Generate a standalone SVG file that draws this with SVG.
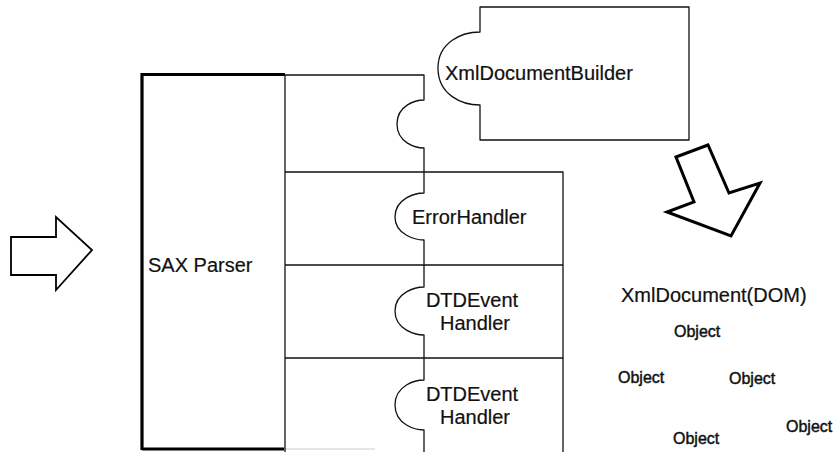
<svg xmlns="http://www.w3.org/2000/svg" width="833" height="452" viewBox="0 0 833 452">
<style>
.ln{fill:none;stroke:#111;stroke-width:1.3;stroke-linejoin:round}
.thick{fill:none;stroke:#000;stroke-width:3.2}
.blk{fill:#fff;stroke:#000;stroke-linejoin:miter}
.t{font-family:"Liberation Sans",Arial,sans-serif;font-size:20px;fill:#111;stroke:#111;stroke-width:0.2}
.o{font-family:"Liberation Sans",Arial,sans-serif;font-size:16px;fill:#111;stroke:#111;stroke-width:0.45}
</style>
<rect width="833" height="452" fill="#fff"/>
<g id="sax-parser">
<path class="thick" d="M142,450 L142,74.5 L285,74.5"/>
<path class="thick" d="M142,449 L284,449"/>
<path d="M285,449 L375,449" fill="none" stroke="#ccc" stroke-width="1.2"/>
<path class="ln" d="M285,75 L285,452"/>
<text class="t" x="148" y="272">SAX Parser</text>
</g>
<g id="handler-column">
<path class="ln" d="M285,75 L424,75 L424,100 C416,100 397,105 397,124 C397,143 416,148 424,148 L424,193 C416,193 395,198 395,217 C395,235 416,240 424,240 L424,287 C416,287 395,292 395,311 C395,330 416,335 424,335 L424,380 C416,380 395,385 395,405 C395,425 416,430 424,430 L424,452"/>
</g>
<g id="error-handler">
<path class="ln" d="M285,172 L563,172 L563,265 L285,265"/>
<text class="t" x="412" y="224">ErrorHandler</text>
</g>
<g id="dtd-event-handler-1">
<path class="ln" d="M563,265 L563,358 L285,358"/>
<text class="t" x="472" y="307" text-anchor="middle">DTDEvent</text>
<text class="t" x="475" y="330" text-anchor="middle">Handler</text>
</g>
<g id="dtd-event-handler-2">
<path class="ln" d="M563,358 L563,452"/>
<text class="t" x="472" y="401" text-anchor="middle">DTDEvent</text>
<text class="t" x="475" y="424" text-anchor="middle">Handler</text>
</g>
<g id="xml-document-builder">
<path class="ln" d="M480,7 L689,7 L689,140 L480,140 L480,105 C462,105 438,95 438,68 C438,42 462,32 480,32 Z" fill="#fff"/>
<text class="t" x="445" y="80">XmlDocumentBuilder</text>
</g>
<g id="xml-document">
<text class="t" x="621" y="302">XmlDocument(DOM)</text>
<text class="o" x="674" y="337">Object</text>
<text class="o" x="618" y="383">Object</text>
<text class="o" x="729" y="384">Object</text>
<text class="o" x="786" y="432">Object</text>
<text class="o" x="673" y="444">Object</text>
</g>
<g id="connectors">
<polygon class="blk" stroke-width="1.8" points="11,237 56,237 56,217 92,250 56,290 56,275 11,275"/>
<polygon class="blk" stroke-width="3" points="676,157 708,145 729,193 760,183 731,236 667,212 694,202"/>
</g>
</svg>
